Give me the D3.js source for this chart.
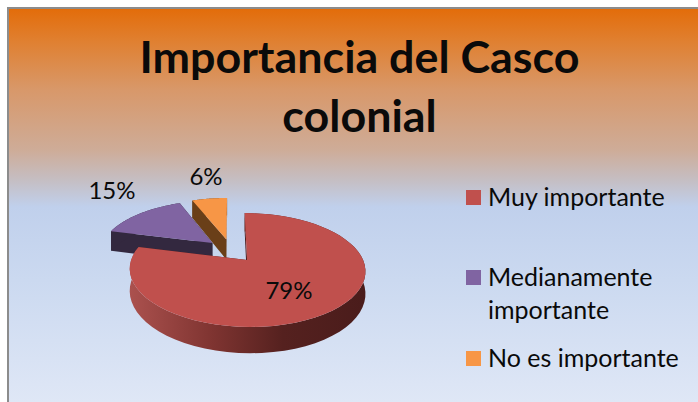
<!DOCTYPE html>
<html>
<head>
<meta charset="utf-8">
<script src="https://d3js.org/d3.v7.min.js"></script>
<style>
html,body{margin:0;padding:0;background:#fff;overflow:hidden}
text{font-family:Lato,"Open Sans",sans-serif;fill:#0a0a0a}
</style>
</head>
<body>
<svg id="chart" width="698" height="402"></svg>
<script>
const titleLines = ["Importancia del Casco", "colonial"];
const categories = ["Muy importante", "Medianamente importante", "No es importante"];
const legendLines = [["Muy importante"], ["Medianamente", "importante"], ["No es importante"]];
const values = [79, 15, 6];
const topColors = ["#c0504d", "#8064a2", "#f79646"];
const wallColors = ["url(#wallRed)", "#33283f", "#6a3f18"];

const svg = d3.select("#chart");
const defs = svg.append("defs");

// Panel background: orange at the top, fading through a dusty pink into pale blue
const bg = defs.append("linearGradient").attr("id", "panel")
  .attr("gradientUnits", "userSpaceOnUse")
  .attr("x1", 0).attr("y1", 8).attr("x2", 0).attr("y2", 402);
[[8, "#e36c09"], [40, "#e07f2f"], [90, "#d8986a"], [150, "#ceac98"], [180, "#c5bec3"],
 [207, "#c0d0ec"], [280, "#cbd9f0"], [402, "#dfe7f6"]]
  .forEach(([y, c]) => bg.append("stop").attr("offset", (y - 8) / 394).attr("stop-color", c));

const wall = defs.append("linearGradient").attr("id", "wallRed")
  .attr("x1", 0).attr("y1", 0).attr("x2", 1).attr("y2", 0);
[[0, "#ab514e"], [0.35, "#7f3431"], [0.65, "#55211f"], [1, "#4a1c1b"]]
  .forEach(([o, c]) => wall.append("stop").attr("offset", o).attr("stop-color", c));

svg.append("rect").attr("x", 8).attr("y", 8).attr("width", 700).attr("height", 410)
  .attr("fill", "url(#panel)").attr("stroke", "#8c8c8c").attr("stroke-width", 2);

// Title
svg.append("g").selectAll("text").data(titleLines).join("text")
  .attr("x", 359.5).attr("y", (d, i) => 73 + i * 59)
  .attr("text-anchor", "middle")
  .attr("font-size", 44.8).attr("font-weight", 700)
  .text(d => d);

// Perspective projection of the tilted disc: u points right, v points away from the viewer
const cx = 231, cy = 250.5, radius = 112.5, squash = 51.9, persp = 0.17, depth = 21, explode = 0.226;
const project = (u, v, down) => {
  const w = 1 + persp * v;
  return [cx + radius * u / w, cy - squash * v / w + (down ? depth / w : 0)];
};
const line = d3.line();

const arcs = d3.pie().sort(null).value(d => d)(values);
const pieces = arcs.map((a, i) => {
  const mid = (a.startAngle + a.endAngle) / 2;
  const ou = explode * Math.sin(mid), ov = explode * Math.cos(mid);
  const steps = d3.range(0, 61).map(k => a.startAngle + (a.endAngle - a.startAngle) * k / 60);
  const rim = steps.map(t => [ou + Math.sin(t), ov + Math.cos(t)]);
  return { i, ou, ov, rim };
});

const at = (pts, down) => pts.map(p => project(p[0], p[1], down));
const g = svg.append("g");

// Farthest wedge first so nearer wedges paint over it
[...pieces].reverse().forEach(p => {
  const apex = [p.ou, p.ov];
  const first = p.rim[0], last = p.rim[p.rim.length - 1];
  // Cut faces
  [first, last].forEach(edge => {
    g.append("path")
      .attr("d", line([...at([apex, edge], false), ...at([edge, apex], true)]) + "Z")
      .attr("fill", p.i === 0 ? "#4a1c1b" : wallColors[p.i]);
  });
  // Outer wall
  g.append("path")
    .attr("d", line([...at(p.rim, false), ...at([...p.rim].reverse(), true)]) + "Z")
    .attr("fill", wallColors[p.i]);
  // Top face
  g.append("path")
    .attr("d", line(at([apex, ...p.rim], false)) + "Z")
    .attr("fill", topColors[p.i]);
});

// Percentage labels
const labelPos = [[289, 293], [112, 193], [206, 179]];
svg.append("g").selectAll("text").data(values).join("text")
  .attr("x", (d, i) => labelPos[i][0]).attr("y", (d, i) => labelPos[i][1])
  .attr("text-anchor", "middle").attr("dominant-baseline", "middle")
  .attr("font-size", 24)
  .text(d => d + "%");

// Legend
const legendRows = [205, 285, 366];
const legend = svg.append("g").selectAll("g").data(categories).join("g");
legend.append("rect")
  .attr("x", 466).attr("y", (d, i) => legendRows[i] - 15)
  .attr("width", 15).attr("height", 15)
  .attr("fill", (d, i) => topColors[i]);
legend.each(function (d, i) {
  d3.select(this).selectAll("text").data(legendLines[i]).join("text")
    .attr("x", 488).attr("y", (t, j) => legendRows[i] + 1 + j * 33)
    .attr("font-size", 25)
    .text(t => t);
});
</script>
</body>
</html>
